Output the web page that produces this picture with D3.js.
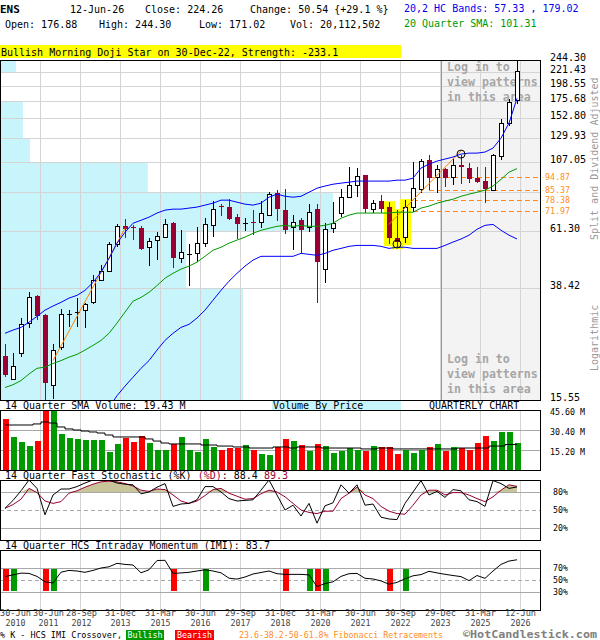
<!DOCTYPE html>
<html>
<head>
<meta charset="utf-8">
<script src="https://cdn.jsdelivr.net/npm/d3@7"></script>
<style>
body { margin: 0; background: #fff; }
svg { display: block; font-family: 'DejaVu Sans Mono', monospace; }
</style>
</head>
<body>
<svg></svg>
<script>
// quarterly candles, Q2 2010 .. Q2 2026 (65 quarters)
let opens = [22.2, 18.5, 22.7, 29.0, 36.0, 30.9, 17.6, 23.8, 31.2, 31.6,
    32.2, 34.3, 41.0, 44.1, 55.0, 63.5, 63.2, 62.5, 53.6, 56.8,
    58.2, 65.1, 49.3, 50.9, 51.0, 55.4, 64.0, 75.0, 74.2, 68.4,
    65.4, 65.8, 65.6, 69.5, 83.0, 72.4, 63.0, 66.7, 63.0, 73.0,
    44.9, 62.5, 70.7, 80.4, 88.6, 96.1, 73.0, 77.9, 74.2, 57.7,
    58.2, 74.2, 85.8, 108.6, 94.5, 100.9, 94.5, 104.2, 101.8, 93.8,
    91.6, 85.1, 112.2, 146.6, 176.88]
let highs = [24.4, 22.7, 30.1, 37.2, 36.3, 31.2, 24.4, 32.4, 32.2, 35.5,
    34.0, 42.7, 46.3, 55.9, 64.5, 67.2, 64.0, 63.5, 57.7, 60.5,
    67.2, 65.5, 61.5, 55.0, 63.0, 67.8, 77.9, 76.0, 79.1, 70.1,
    67.8, 72.4, 77.9, 83.7, 85.1, 85.8, 69.5, 67.8, 76.0, 76.0,
    65.1, 77.2, 85.8, 102.5, 101.8, 96.5, 78.5, 82.0, 77.2, 72.4,
    78.5, 106.8, 109.5, 113.1, 104.2, 101.8, 110.7, 113.1, 105.9, 102.5,
    102.5, 114.0, 151.4, 178.0, 244.30]
let lows = [18.7, 18.4, 22.0, 27.8, 29.7, 15.55, 15.7, 23.3, 28.0, 28.0,
    27.8, 33.8, 40.8, 43.8, 53.6, 57.7, 56.8, 52.3, 46.0, 48.3,
    57.7, 45.2, 47.1, 39.0, 47.5, 53.6, 58.2, 68.9, 66.7, 57.3,
    61.0, 59.1, 62.5, 68.9, 66.2, 59.5, 52.3, 51.0, 60.5, 34.0,
    40.0, 60.0, 68.4, 79.8, 80.4, 70.7, 70.7, 70.7, 55.0, 53.6,
    55.4, 71.2, 83.0, 85.1, 83.0, 87.2, 88.6, 89.3, 90.1, 90.1,
    76.6, 84.4, 108.6, 143.1, 171.02]
let closes = [19.0, 20.5, 28.7, 35.7, 30.6, 17.8, 23.3, 31.2, 31.4, 31.8,
    33.8, 41.0, 44.1, 55.0, 63.5, 62.0, 62.8, 52.7, 56.3, 58.6,
    64.5, 49.3, 51.5, 51.1, 55.4, 64.5, 73.0, 74.6, 67.2, 64.5,
    65.8, 65.4, 70.7, 82.4, 73.0, 61.5, 65.6, 61.5, 71.2, 47.5,
    62.0, 65.1, 80.4, 88.6, 95.3, 73.0, 76.6, 73.0, 57.7, 55.9,
    74.2, 86.5, 107.7, 93.8, 100.9, 93.8, 104.2, 102.5, 93.0, 90.8,
    85.8, 113.1, 146.6, 173.72, 224.26]

// volume, millions of shares
let volumes = [38.8, 25.1, 21.3, 18.2, 22.0, 48.0, 50.0, 27.4, 24.3, 23.6,
    22.8, 22.8, 22.8, 13.7, 19.8, 24.3, 21.3, 25.6, 20.5, 15.2,
    15.2, 19.8, 25.1, 15.2, 13.7, 23.6, 17.5, 15.2, 16.7, 16.7,
    19.0, 15.2, 12.2, 11.4, 17.5, 23.6, 22.0, 19.0, 14.4, 19.8,
    18.2, 12.9, 14.4, 16.7, 15.2, 14.4, 18.2, 17.5, 17.5, 12.2,
    15.2, 12.9, 15.2, 17.5, 19.8, 14.4, 17.5, 16.7, 15.2, 20.5,
    25.8, 22.0, 28.9, 28.9, 20.5]
let volSma = [34.2, 34.2, 34.2, 34.2, 35.0, 36.5, 35.7, 32.7, 31.2, 30.4,
    29.6, 28.9, 28.1, 26.6, 25.1, 25.1, 25.1, 25.1, 23.6, 22.0,
    20.5, 19.8, 19.8, 19.8, 19.8, 19.0, 19.0, 18.2, 18.2, 17.5,
    17.5, 16.7, 16.7, 16.7, 17.5, 17.5, 16.7, 17.5, 17.5, 17.5,
    16.7, 16.7, 16.7, 16.7, 16.7, 16.0, 16.0, 16.7, 16.7, 16.0,
    16.0, 16.0, 16.0, 16.0, 16.0, 16.0, 16.0, 16.7, 16.7, 16.7,
    16.7, 18.2, 18.2, 19.4, 19.43]

// 20 quarter SMA and 20,2 HC bands
let sma20 = [17.2, 17.6, 18.2, 19.2, 20.1, 20.3, 20.9, 21.4, 22.0, 22.5,
    23.3, 24.2, 25.2, 26.7, 29.0, 31.7, 34.6, 35.7, 37.2, 39.3,
    41.7, 43.4, 44.9, 46.0, 47.5, 49.8, 52.3, 53.6, 55.4, 56.8,
    58.2, 60.0, 61.5, 62.5, 63.5, 64.0, 63.5, 64.0, 63.5, 63.5,
    64.0, 65.1, 67.8, 69.5, 70.7, 70.7, 70.7, 70.7, 70.7, 71.2,
    71.2, 71.2, 73.6, 74.8, 76.6, 77.9, 79.1, 81.0, 82.4, 83.7,
    85.1, 88.0, 92.9, 98.5, 101.31]
let bandUp = [26.7, 27.4, 28.0, 29.2, 30.6, 32.2, 33.3, 34.3, 35.5, 36.3,
    37.8, 40.3, 43.8, 48.9, 55.4, 60.5, 65.1, 66.7, 68.4, 70.7,
    72.4, 73.0, 73.0, 73.6, 74.2, 75.4, 76.6, 78.5, 78.5, 77.2,
    76.0, 75.4, 76.6, 80.4, 82.4, 81.0, 80.4, 81.0, 83.7, 86.5,
    88.0, 89.3, 90.1, 90.8, 91.6, 91.6, 91.6, 91.6, 91.6, 92.3,
    92.3, 93.8, 101.8, 105.1, 107.7, 109.5, 111.3, 114.0, 114.9, 114.9,
    115.9, 119.7, 129.7, 146.6, 179.02]
let bandLow = [null, null, null, null, null, null, null, null, null, null,
    null, null, null, 14.6, 16.1, 17.4, 18.7, 20.1, 21.4, 23.3,
    25.2, 26.7, 28.0, 28.7, 30.2, 32.2, 34.9, 37.8, 40.7, 43.4,
    46.0, 48.3, 49.8, 49.8, 49.8, 49.8, 49.8, 51.0, 50.6, 50.2,
    51.0, 52.3, 53.1, 54.0, 54.4, 54.4, 54.4, 54.0, 53.1, 53.6,
    53.6, 53.1, 53.1, 53.1, 53.1, 54.4, 55.9, 57.3, 59.1, 62.0,
    64.0, 64.5, 61.5, 59.1, 57.33]

// 14 quarter fast stochastic and IMI, percent
let stochK = [52.8, 66, 82, 100, 86, 42, 75, 85, 85, 89,
    95, 100, 100, 100, 95, 93, 92, 77, 80, 88,
    94, 56, 60, 61, 67, 89, 89, 80, 69, 65,
    66, 67, 83, 100, 75, 50, 58, 40, 61, 28,
    57, 62, 92, 78, 92, 58, 60, 38, 35, 34,
    61, 80, 99, 75, 81, 71, 84, 82, 67, 64,
    56, 99, 94, 86, 88.4]
let stochD = [52.8, 59, 68, 86, 79, 65, 61, 64, 78, 82,
    88, 93, 97, 98, 97, 94, 90, 83, 81, 85,
    84, 75, 65, 61, 65, 74, 84, 86, 78, 73,
    68, 69, 77, 83, 80, 72, 61, 50, 46, 44,
    48, 48, 69, 78, 88, 75, 69, 56, 48, 44,
    43, 58, 75, 83, 83, 75, 79, 79, 75, 69,
    64, 72, 83, 92, 89.3]
let imi = [55.6, 58.5, 61.5, 61, 56, 47, 45, 63, 66, 65,
    62.8, 66, 70, 72, 77.8, 76, 75, 62, 67, 82.5,
    82.8, 61, 61.8, 62.8, 65, 67, 65, 62, 53, 51.5,
    55, 60, 62.5, 65, 60.5, 59.4, 59.4, 59.4, 58.5, 38.9,
    44, 47, 56, 60.5, 61, 52.8, 51.7, 48.5, 43, 46,
    52, 57, 59, 64.5, 61.8, 59.5, 57.5, 55.6, 49, 57.5,
    52.8, 65, 76, 81.6, 83.7]
let bullCross = [1, 6, 25, 38, 40, 50]
let bearCross = [0, 5, 21, 35, 39, 48]

// price axis, volume by price (per price band, bottom up), fibonacci
let priceTicks = [15.55, 38.42, 61.30, 84.18, 107.05, 129.93, 152.80, 175.68, 198.55, 221.43, 244.30]
let priceTickShown = [true, true, true, false, true, true, true, true, true, true, true]
let vbpVol = [730, 559, 1000, 444, 90, 69, 69, 0, 0, 48]
let fibLevels = [94.87, 85.37, 78.38, 71.97]
let fibStart = [53, 53, 51, 50]
let swingFrom = [[6, 21.4], [48, 64.5]]
let swingTo = [[15, 62.5], [57, 116.9]]
let patternIdx = [48, 49, 50]
let circleAt = [[49, 55.0], [57, 114.0]]

// x axis
let tickIdx = [0, 4, 9, 14, 19, 24, 29, 34, 39, 44, 49, 54, 59, 64]
let tickDay = ['30-Jun', '30-Jun', '28-Sep', '31-Dec', '31-Mar', '30-Jun', '29-Sep',
    '31-Dec', '31-Mar', '30-Jun', '30-Sep', '29-Dec', '31-Mar', '12-Jun']
let tickYear = ['2010', '2011', '2012', '2013', '2015', '2016', '2017',
    '2018', '2020', '2021', '2022', '2023', '2025', '2026']
let volTicks = [15.2, 30.4, 45.6]
let volTickText = ['15.20 M', '30.40 M', '45.60 M']

let width = 600
let height = 640
let red = '#990033'
let gridColor = '#d4d4d4'

let svg = d3.select('svg').attr('width', width).attr('height', height)
svg.append('rect').attr('width', width).attr('height', height).attr('fill', '#fff')

let xScale = d3.scaleLinear().domain([0, 64]).range([5, 517])
let yPrice = d3.scaleLog().domain([15.55, 244.30]).range([400, 60])
let yVol = d3.scaleLinear().domain([0, 45.6]).range([470, 410])
let yStoch = d3.scaleLinear().domain([0, 100]).range([540, 480])
let yImi = d3.scaleLinear().domain([0, 100]).range([610, 550])
let xVbp = d3.scaleLinear().domain([0, 1000]).range([0, 333])

let px = (i) => Math.round(xScale(i))
let gridX = (i) => px(i) + 3.5
let crisp = (v) => Math.round(v) + 0.5

let text = (g, x, y, str, size, fill, opt = {}) => {
    let t = g.append('text')
        .attr('x', x)
        .attr('y', y)
        .style('font-size', size + 'px')
        .attr('fill', fill || '#000')
        .text(str)
    if (opt.bold) t.style('font-weight', 'bold')
    if (opt.anchor) t.attr('text-anchor', opt.anchor)
    if (opt.len) t.attr('textLength', opt.len).attr('lengthAdjust', 'spacingAndGlyphs')
    return t
}

let clip = (id, y0, y1) => {
    svg.append('clipPath').attr('id', id)
        .append('rect').attr('x', 0).attr('y', y0).attr('width', 541).attr('height', y1 - y0)
    return svg.append('g').attr('clip-path', 'url(#' + id + ')')
}

let vGrid = (g, y0, y1) => {
    g.selectAll('line.vg')
        .data(tickIdx.slice(1))
        .enter()
        .append('line')
        .attr('x1', gridX).attr('x2', gridX)
        .attr('y1', y0).attr('y2', y1)
        .attr('stroke', gridColor)
}

let hLine = (g, y, color, dash) => {
    let l = g.append('line')
        .attr('x1', 0).attr('x2', 541)
        .attr('y1', crisp(y)).attr('y2', crisp(y))
        .attr('stroke', color)
    if (dash) l.attr('stroke-dasharray', dash)
}

let frame = (y0, y1) => {
    svg.append('rect')
        .attr('x', 0.5).attr('y', y0 + 0.5)
        .attr('width', 540).attr('height', y1 - y0)
        .attr('fill', 'none').attr('stroke', '#000')
}

// ---------- header ----------
let drawHeader = () => {
    text(svg, 0, 13, 'ENS', 11, '#000', { bold: true })
    text(svg, 70, 13, '12-Jun-26', 10)
    text(svg, 145, 13, 'Close: 224.26', 10)
    text(svg, 250, 13, 'Change: 50.54 {+29.1 %}', 10)
    text(svg, 5, 28, 'Open: 176.88', 10)
    text(svg, 99, 28, 'High: 244.30', 10)
    text(svg, 199, 28, 'Low: 171.02', 10)
    text(svg, 290, 28, 'Vol: 20,112,502', 10)
    text(svg, 404, 12, '20,2 HC Bands: 57.33 , 179.02', 10, '#0000ee')
    text(svg, 404, 27, '20 Quarter SMA: 101.31', 10, '#009900')

    svg.append('rect').attr('x', 0).attr('y', 45).attr('width', 401).attr('height', 13).attr('fill', '#ffff00')
    text(svg, 1, 55.5, 'Bullish Morning Doji Star on 30-Dec-22, Strength: -233.1', 10)
}

// ---------- price panel ----------
let drawPrice = () => {
    let g = clip('clipPrice', 60, 401)

    // volume by price
    g.selectAll('rect.vbp')
        .data(vbpVol)
        .enter()
        .append('rect')
        .attr('x', 0)
        .attr('y', (d, k) => Math.round(yPrice(priceTicks[k + 1])))
        .attr('width', (d) => xVbp(d))
        .attr('height', (d, k) => Math.round(yPrice(priceTicks[k])) - Math.round(yPrice(priceTicks[k + 1])))
        .attr('fill', '#c8f5fc')

    // locked area
    g.append('rect').attr('x', 441).attr('y', 60).attr('width', 100).attr('height', 340).attr('fill', '#f3f3f3')

    priceTicks.forEach((t) => hLine(g, yPrice(t), gridColor))
    vGrid(g, 60, 400)
    g.append('line').attr('x1', 441.5).attr('x2', 441.5).attr('y1', 60).attr('y2', 400).attr('stroke', '#999')

    let lock = ['Log in to', 'view patterns', 'in this area']
    lock.forEach((s, k) => {
        text(g, 447, 71 + k * 15, s, 11.6, '#a6a6a6', { bold: true })
        text(g, 447, 363 + k * 15, s, 11.6, '#a6a6a6', { bold: true })
    })

    // fibonacci retracements
    g.selectAll('line.fib')
        .data(fibLevels)
        .enter()
        .append('line')
        .attr('x1', (d, k) => px(fibStart[k]))
        .attr('x2', 541)
        .attr('y1', (d) => crisp(yPrice(d)))
        .attr('y2', (d) => crisp(yPrice(d)))
        .attr('stroke', '#ff8c1a')
        .attr('stroke-dasharray', '5,3')

    // pattern highlight
    g.selectAll('rect.pat')
        .data(patternIdx)
        .enter()
        .append('rect')
        .attr('x', (i) => px(i) - 5)
        .attr('width', 11)
        .attr('y', (i) => yPrice(highs[i]) - 1)
        .attr('height', (i) => yPrice(lows[i]) - yPrice(highs[i]) + 3)
        .attr('fill', '#ffff00')

    // candles
    let candles = closes.map((c, i) => ({ i: i, o: opens[i], h: highs[i], l: lows[i], c: c, up: c >= opens[i] }))
    let isDoji = (d) => Math.abs(yPrice(d.o) - yPrice(d.c)) < 1.5

    g.selectAll('line.wick')
        .data(candles)
        .enter()
        .append('line')
        .attr('x1', (d) => px(d.i) + 0.5)
        .attr('x2', (d) => px(d.i) + 0.5)
        .attr('y1', (d) => Math.round(yPrice(d.h)))
        .attr('y2', (d) => Math.round(yPrice(d.l)))
        .attr('stroke', (d) => d.up ? '#000' : red)

    g.selectAll('rect.body')
        .data(candles.filter((d) => !isDoji(d)))
        .enter()
        .append('rect')
        .attr('x', (d) => d.up ? px(d.i) - 1.5 : px(d.i) - 2)
        .attr('width', (d) => d.up ? 4 : 5)
        .attr('y', (d) => d.up ? crisp(yPrice(d.c)) : Math.round(yPrice(d.o)))
        .attr('height', (d) => d.up
            ? Math.round(yPrice(d.o)) - Math.round(yPrice(d.c))
            : Math.max(1, Math.round(yPrice(d.c)) - Math.round(yPrice(d.o))))
        .attr('fill', (d) => d.up ? '#fff' : red)
        .attr('stroke', (d) => d.up ? '#000' : 'none')

    g.selectAll('line.doji')
        .data(candles.filter(isDoji))
        .enter()
        .append('line')
        .attr('x1', (d) => px(d.i) - 2)
        .attr('x2', (d) => px(d.i) + 3)
        .attr('y1', (d) => crisp(yPrice(d.o)))
        .attr('y2', (d) => crisp(yPrice(d.o)))
        .attr('stroke', (d) => d.up ? '#000' : red)

    // swing lines
    g.selectAll('line.swing')
        .data(swingFrom)
        .enter()
        .append('line')
        .attr('x1', (d) => xScale(d[0]))
        .attr('y1', (d) => yPrice(d[1]))
        .attr('x2', (d, k) => xScale(swingTo[k][0]))
        .attr('y2', (d, k) => yPrice(swingTo[k][1]))
        .attr('stroke', '#ff8000')

    let line = d3.line()
        .defined((d) => d != null)
        .x((d, i) => xScale(i))
        .y((d) => yPrice(d))

    g.append('path').datum(sma20).attr('d', line).attr('fill', 'none').attr('stroke', '#009900')
    g.append('path').datum(bandUp).attr('d', line).attr('fill', 'none').attr('stroke', '#0000ff')
    g.append('path').datum(bandLow).attr('d', line).attr('fill', 'none').attr('stroke', '#0000ff')

    g.selectAll('circle.mark')
        .data(circleAt)
        .enter()
        .append('circle')
        .attr('cx', (d) => xScale(d[0]))
        .attr('cy', (d) => yPrice(d[1]))
        .attr('r', 4)
        .attr('fill', 'none')
        .attr('stroke', '#000')

    frame(60, 400)

    // right axis
    priceTicks.forEach((t, k) => {
        if (priceTickShown[k]) text(svg, 550, Math.round(yPrice(t)) + 1, t.toFixed(2), 10)
    })
    fibLevels.forEach((f) => text(svg, 545, Math.round(yPrice(f)) + 3, f.toFixed(2), 8.3, '#ff8c1a'))

    text(svg, 0, 0, 'Split and Dividend Adjusted', 10, '#999')
        .attr('transform', 'translate(598,240) rotate(-90)')
    text(svg, 0, 0, 'Logarithmic', 10, '#999')
        .attr('transform', 'translate(598,371) rotate(-90)')

    // sub heading
    text(svg, 5, 409, '14 Quarter SMA Volume: 19.43 M', 10)
    svg.append('rect').attr('x', 272).attr('y', 401).attr('width', 129).attr('height', 9).attr('fill', '#c8f5fc')
    text(svg, 273, 409, 'Volume By Price', 10)
    text(svg, 429, 409, 'QUARTERLY CHART', 10)
}

// ---------- volume panel ----------
let drawVolume = () => {
    let g = clip('clipVol', 410, 471)
    vGrid(g, 410, 470)
    volTicks.slice(0, 2).forEach((t) => hLine(g, yVol(t), '#a8a8a8'))

    g.selectAll('rect.vol')
        .data(volumes)
        .enter()
        .append('rect')
        .attr('x', (d, i) => px(i) - 2)
        .attr('width', 6)
        .attr('y', (d) => Math.round(yVol(d)))
        .attr('height', (d) => 470 - Math.round(yVol(d)))
        .attr('fill', (d, i) => closes[i] >= opens[i] ? '#009900' : '#ff0000')

    let line = d3.line()
        .x((d, i) => xScale(i))
        .y((d) => yVol(d))
        .curve(d3.curveStep)
    g.append('path').datum(volSma).attr('d', line).attr('fill', 'none').attr('stroke', '#000')

    frame(410, 470)
    volTicks.forEach((t, k) => text(svg, 550, Math.round(yVol(t)) + 5, volTickText[k], 8.3))
}

// ---------- stochastic panel ----------
let drawStoch = () => {
    let lbl = text(svg, 5, 479, '14 Quarter Fast Stochastic (%K) ', 10)
    lbl.append('tspan').attr('fill', red).text('(%D)')
    lbl.append('tspan').text(': 88.4  ')
    lbl.append('tspan').attr('fill', red).text('89.3')

    let g = clip('clipStoch', 480, 541)
    vGrid(g, 480, 540)

    let area = d3.area()
        .x((d, i) => xScale(i))
        .y0(yStoch(80))
        .y1((d) => yStoch(Math.max(80, d)))
    g.append('path').datum(stochD).attr('d', area).attr('fill', '#c9c59a')

    hLine(g, yStoch(80), '#a8a8a8')
    hLine(g, yStoch(20), '#a8a8a8')
    hLine(g, yStoch(50), '#a8a8a8', '4,3')

    let line = d3.line().x((d, i) => xScale(i)).y((d) => yStoch(d))
    g.append('path').datum(stochD).attr('d', line).attr('fill', 'none').attr('stroke', red)
    g.append('path').datum(stochK).attr('d', line).attr('fill', 'none').attr('stroke', '#000')

    frame(480, 540)
    ;[80, 50, 20].forEach((t) => text(svg, 553, Math.round(yStoch(t)) + 3, t + '%', 8.3))
}

// ---------- IMI panel ----------
let drawImi = () => {
    text(svg, 5, 549, '14 Quarter HCS Intraday Momentum (IMI): 83.7', 10)

    let g = clip('clipImi', 550, 611)
    vGrid(g, 550, 610)
    hLine(g, yImi(70), '#a8a8a8')
    hLine(g, yImi(30), '#a8a8a8')
    hLine(g, yImi(50), '#a8a8a8', '4,3')

    let bars = bullCross.map((i) => ({ i: i, c: '#009900' }))
        .concat(bearCross.map((i) => ({ i: i, c: '#ff0000' })))
    g.selectAll('rect.cross')
        .data(bars)
        .enter()
        .append('rect')
        .attr('x', (d) => px(d.i) - 2)
        .attr('width', 6)
        .attr('y', Math.round(yImi(68)))
        .attr('height', Math.round(yImi(32)) - Math.round(yImi(68)))
        .attr('fill', (d) => d.c)

    let line = d3.line().x((d, i) => xScale(i)).y((d) => yImi(d))
    g.append('path').datum(imi).attr('d', line).attr('fill', 'none').attr('stroke', '#000')

    frame(550, 610)
    ;[70, 50, 30].forEach((t) => text(svg, 553, Math.round(yImi(t)) + 3, t + '%', 8.3))
}

// ---------- x axis + footer ----------
let drawAxis = () => {
    let labelW = 31
    let right = -2
    tickIdx.forEach((i, k) => {
        // push a label right when it would run into the one before it
        let cx = Math.max(gridX(i), right + 2 + labelW / 2)
        right = cx + labelW / 2
        text(svg, cx, 616.3, tickDay[k], 8.3, '#444', { anchor: 'middle', len: 31 })
        text(svg, cx, 626, tickYear[k], 8.3, '#444', { anchor: 'middle' })
    })

    text(svg, 0, 638, '% K - HCS IMI Crossover,', 8.3, '#000', { len: 122 })
    svg.append('rect').attr('x', 126).attr('y', 630).attr('width', 38).attr('height', 10).attr('fill', '#009900')
    text(svg, 145, 638, 'Bullish', 8.3, '#fff', { anchor: 'middle' })
    svg.append('rect').attr('x', 175).attr('y', 630).attr('width', 39).attr('height', 10).attr('fill', '#ff0000')
    text(svg, 194.5, 638, 'Bearish', 8.3, '#fff', { anchor: 'middle' })
    text(svg, 239, 638, '23.6-38.2-50-61.8% Fibonacci Retracements', 8.3, '#ff8c1a', { len: 204 })
    text(svg, 463, 637.6, '\u00a9HotCandlestick.com', 10, '#808080', { bold: true, len: 134 })
}

drawHeader()
drawPrice()
drawVolume()
drawStoch()
drawImi()
drawAxis()
</script>
</body>
</html>
